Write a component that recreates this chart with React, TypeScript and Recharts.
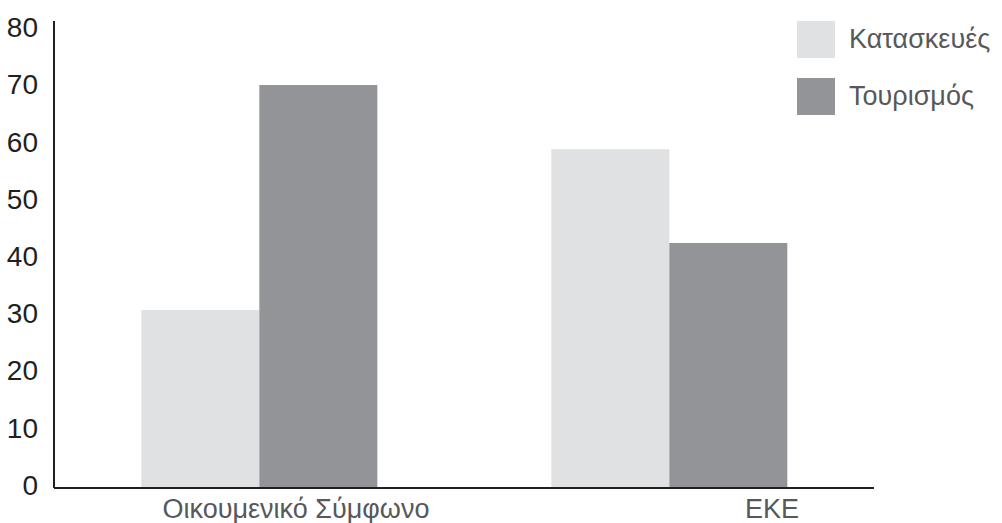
import { Bar, BarChart, XAxis, YAxis } from "recharts"

const categories = ["Οικουμενικό Σύμφωνο", "ΕΚΕ"]
const construction = [31.1, 59.2]
const tourism = [70.4, 42.8]
const yTicks = [0, 10, 20, 30, 40, 50, 60, 70, 80]

const seriesNames = { construction: "Κατασκευές", tourism: "Τουρισμός" }
const colors = { construction: "#e0e1e3", tourism: "#939497" }

// x labels in the original sit to the right of the band centres
const labelShift = [37, 103]

const data = categories.map((name, i) => ({
  name,
  construction: construction[i],
  tourism: tourism[i],
}))

const font = "'Liberation Sans', Arial, sans-serif"

function CategoryTick(props: any) {
  const { x, y, payload, index } = props
  return (
    <text
      x={x + (labelShift[index] ?? 0)}
      y={y}
      dy={22}
      textAnchor="middle"
      fill="#58585a"
      fontSize={27}
      fontFamily={font}
    >
      {payload.value}
    </text>
  )
}

function LegendBox() {
  const items = [
    { key: "construction", label: seriesNames.construction },
    { key: "tourism", label: seriesNames.tourism },
  ] as const
  return (
    <div style={{ position: "absolute", left: 797, top: 21, fontFamily: font }}>
      {items.map((it) => (
        <div key={it.key} style={{ display: "flex", alignItems: "center", height: 37, marginBottom: 20 }}>
          <div style={{ width: 38, height: 37, background: colors[it.key], marginRight: 14 }} />
          <span style={{ fontSize: 27, color: "#58585a" }}>{it.label}</span>
        </div>
      ))}
    </div>
  )
}

export default function App() {
  return (
    <div style={{ position: "absolute", left: 0, top: 0, width: 1002, height: 523, background: "#fff" }}>
      <BarChart
        width={1002}
        height={523}
        data={data}
        margin={{ top: 21, right: 128, bottom: 0, left: 0 }}
        barCategoryGap="21.3%"
        barGap={0}
      >
        <XAxis
          dataKey="name"
          height={35}
          tickLine={false}
          axisLine={{ stroke: "#231f20", strokeWidth: 2 }}
          tick={<CategoryTick />}
          interval={0}
        />
        <YAxis
          width={54}
          domain={[0, 81.6]}
          ticks={yTicks}
          tickLine={false}
          axisLine={{ stroke: "#231f20", strokeWidth: 2 }}
          tickMargin={10}
          tick={{ fill: "#231f20", fontSize: 28, fontFamily: font, dy: -3 }}
        />
        <Bar dataKey="construction" name={seriesNames.construction} fill={colors.construction} isAnimationActive={false} />
        <Bar dataKey="tourism" name={seriesNames.tourism} fill={colors.tourism} isAnimationActive={false} />
      </BarChart>
      <LegendBox />
    </div>
  )
}
